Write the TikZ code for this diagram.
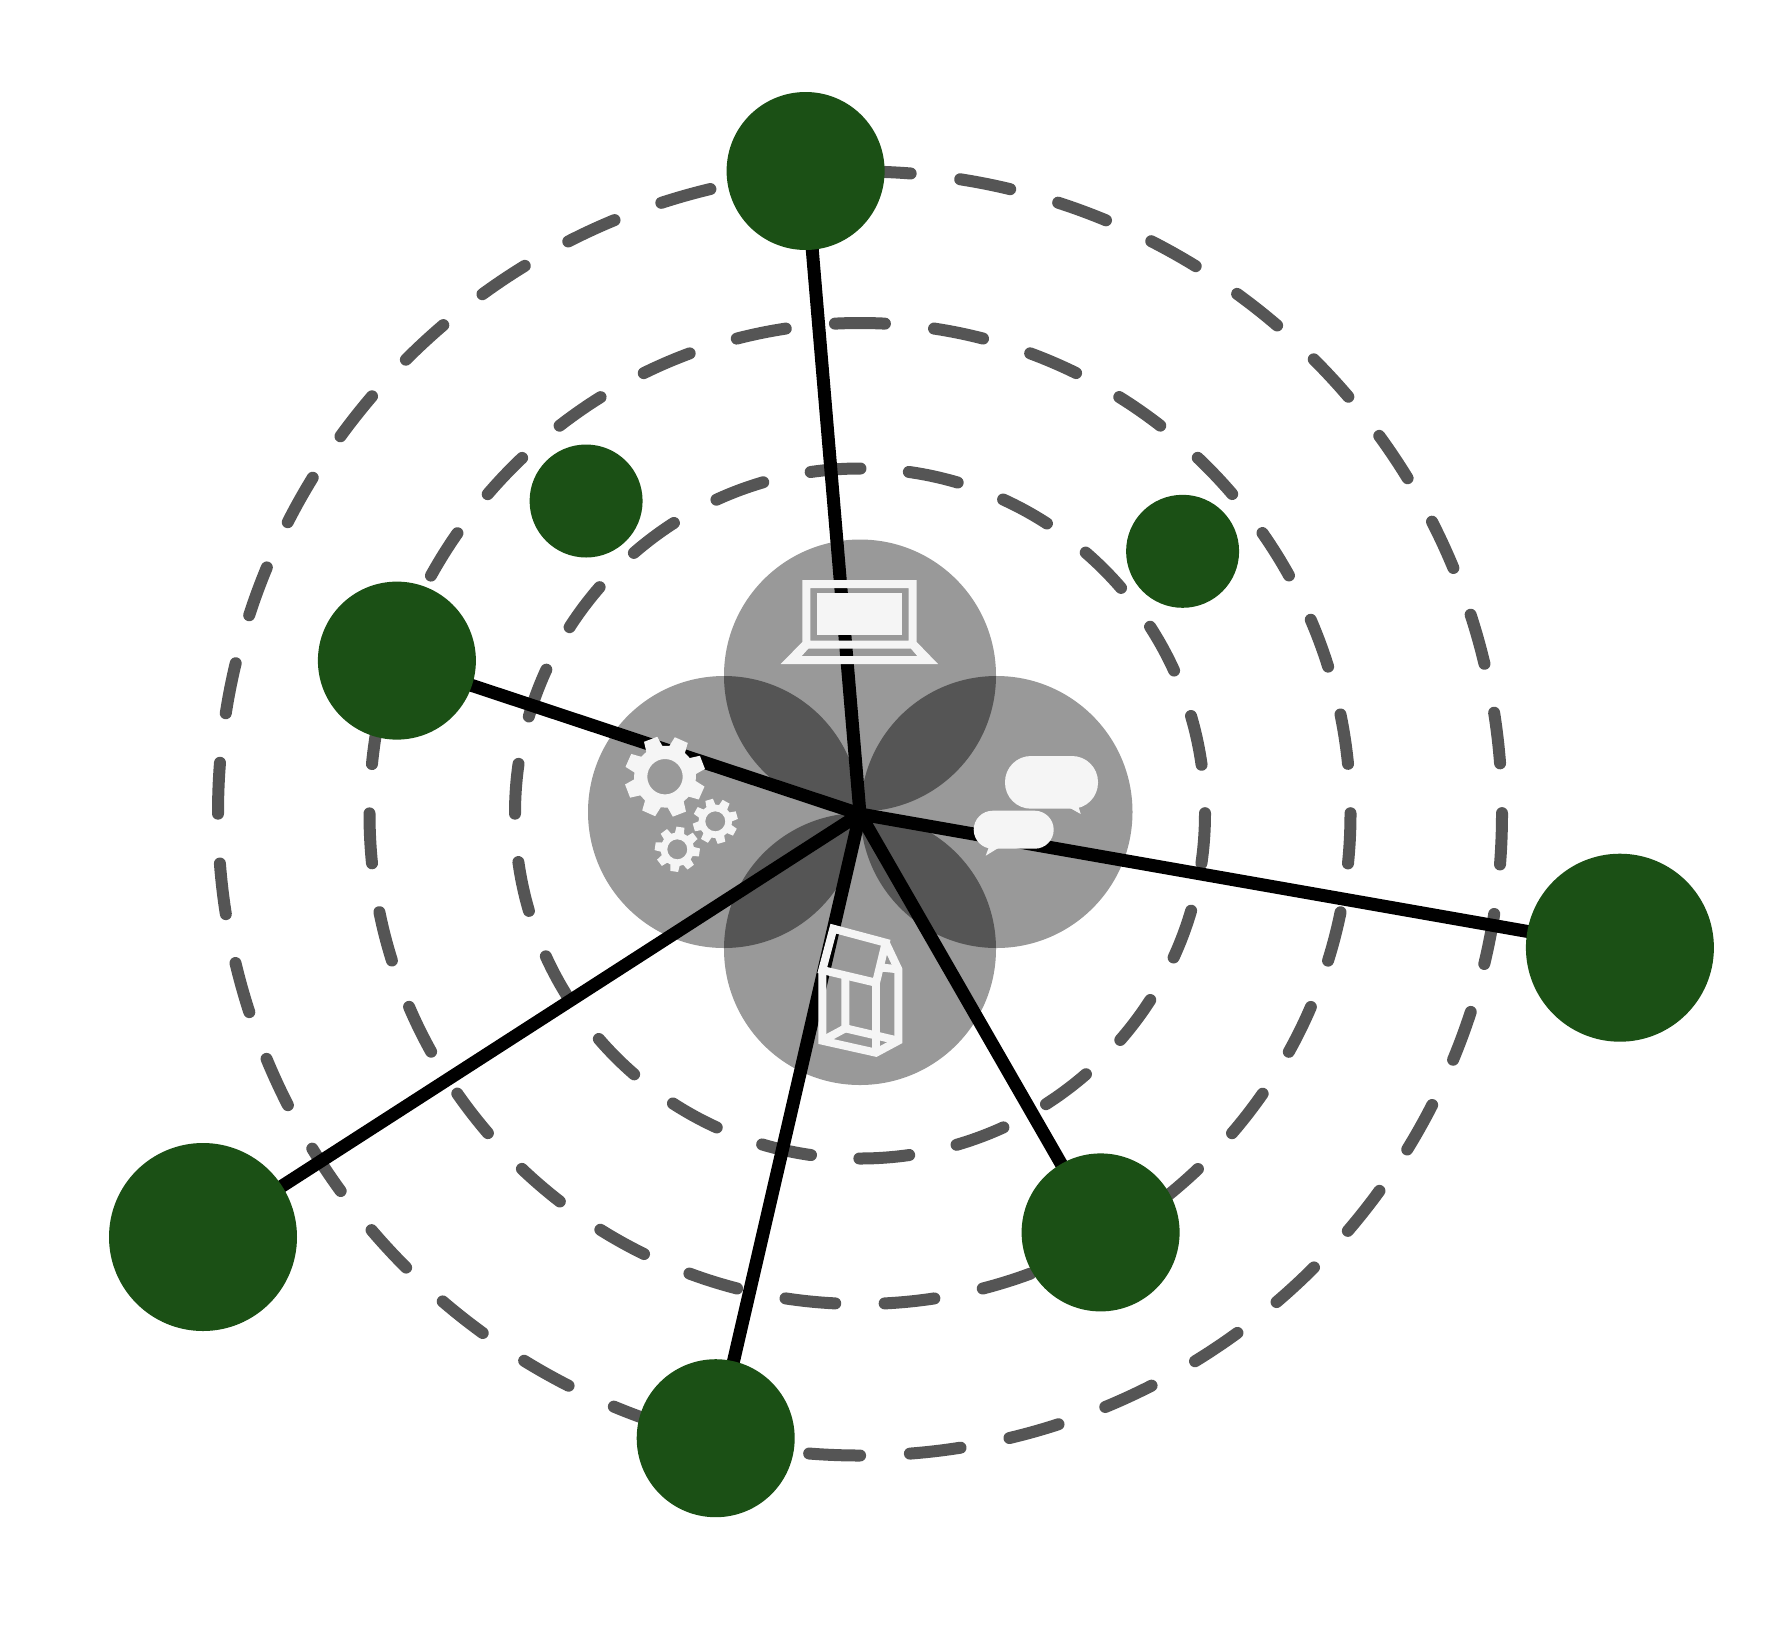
\documentclass[tikz,border=0pt]{standalone}
\pgfdeclarelayer{back}
\pgfsetlayers{back,main}
\definecolor{leaf}{HTML}{1B5015}
\definecolor{ringc}{HTML}{555555}
\definecolor{iconc}{HTML}{F5F5F5}
\definecolor{petalc}{HTML}{999999}
\definecolor{lensc}{HTML}{555555}
\tikzset{
  ring/.style={draw=ringc,line width=12pt,line cap=round},
  petal/.style={circle,fill=petalc,inner sep=0pt,minimum size=272pt},
  spoke/.style={draw=black,line width=13pt},
  bignode/.style={circle,fill=leaf,inner sep=0pt,minimum size=188pt},
  midnode/.style={circle,fill=leaf,inner sep=0pt,minimum size=158pt},
  smallnode/.style={circle,fill=leaf,inner sep=0pt,minimum size=113pt},
  iconfill/.style={fill=iconc,even odd rule},
  iconline/.style={draw=iconc,line width=8pt,line join=miter},
}
\newcommand{\gearicon}[6]{%
  \begin{scope}[shift={(#1,#2)}]
  \fill[iconfill] ({#6-16}:#4)
    \foreach \k in {0,...,7}{
      -- ({#6+45*\k-16}:#4) -- ({#6+45*\k-10}:#3) -- ({#6+45*\k+10}:#3) -- ({#6+45*\k+16}:#4)
    } -- cycle
    (0,0) circle (#5);
  \end{scope}}
\newcommand{\lensfill}[2]{%
  \begin{scope}
  \clip (#1) circle (136);
  \fill[lensc] (#2) circle (136);
  \end{scope}}
\begin{document}
\begin{tikzpicture}[x=1pt,y=1pt]
\useasboundingbox (0,0) rectangle (1786,-1642);
\coordinate (hub) at (860,-814);
% outer nodes
\node[midnode] (top) at (805.6,-171) {};
\node[midnode] (left) at (396.9,-660.6) {};
\node[bignode] (right) at (1619.9,-947.7) {};
\node[bignode] (lowleft) at (203,-1237) {};
\node[midnode] (bottom) at (715.7,-1438.2) {};
\node[midnode] (lowright) at (1100.6,-1232.4) {};
\node[smallnode] (sa) at (586.1,-501) {};
\node[smallnode] (sb) at (1182.6,-551.3) {};
\begin{pgfonlayer}{back}
  \fill[white] (0,0) rectangle (1786,-1642);
  \draw[ring,dash pattern=on 50pt off 48.53pt] (860+345,-813.5) arc (0:-360:345);
  \draw[ring,dash pattern=on 50pt off 49.42pt] (860+490.5,-813.5) arc (0:-360:490.5);
  \draw[ring,dash pattern=on 51pt off 49.85pt] (860+642,-813.5) arc (0:-360:642);
  \node[petal] (pa) at (860,-675.5) {};
  \node[petal] (pb) at (724,-812) {};
  \node[petal] (pc) at (996.5,-812) {};
  \node[petal] (pd) at (860,-949) {};
  \lensfill{pa.center}{pb.center}
  \lensfill{pa.center}{pc.center}
  \lensfill{pd.center}{pb.center}
  \lensfill{pd.center}{pc.center}
  \draw[spoke] (hub) -- (top.center);
  \draw[spoke] (hub) -- (left.center);
  \draw[spoke] (hub) -- (right.center);
  \draw[spoke] (hub) -- (lowleft.center);
  \draw[spoke] (hub) -- (bottom.center);
  \draw[spoke] (hub) -- (lowright.center);
\end{pgfonlayer}
% laptop
\fill[iconfill] (802.3,-580) rectangle (916.7,-642.7) (810.3,-588) rectangle (908.7,-640.7);
\fill[iconc] (817.3,-593.3) rectangle (901.7,-635);
\fill[iconfill] (802.3,-642) -- (780.7,-664) -- (938,-664) -- (916.7,-642) -- cycle
  (808.3,-648.7) -- (911,-648.7) -- (917.3,-656) -- (801.7,-656) -- cycle;
% speech bubbles
\fill[iconc,rounded corners=26pt] (1005,-756) rectangle (1098,-808.7);
\fill[iconc] (1070,-808) -- (1080.7,-814) -- (1078.3,-806) -- cycle;
\fill[iconc,rounded corners=19pt] (973.7,-810.7) rectangle (1053.7,-848.7);
\fill[iconc] (998.3,-848) -- (985.7,-855.7) -- (989.3,-846) -- cycle;
% house
\draw[iconline] (833.3,-928.7) -- (885.7,-942.7) -- (876,-982.7) -- (822.3,-970) -- cycle;
\draw[iconline] (822.3,-970) -- (822.3,-1040.7) -- (876,-1052.7) -- (898.3,-1040.7) -- (898.3,-969.3) -- (885.7,-942.7);
\draw[iconline] (876,-982.7) -- (876,-1052.7);
\draw[iconline] (845.3,-976.7) -- (845.3,-1028.3) -- (898.3,-1040.7);
\draw[iconline] (822.3,-1040.7) -- (845.3,-1028.3);
\draw[iconline] (879.3,-967.3) -- (898.3,-969.3);
% gears
\gearicon{665}{-776.7}{40.7}{31}{17.7}{66}
\gearicon{715.3}{-821.3}{22.7}{16.7}{10}{61}
\gearicon{677.3}{-849.3}{22.7}{16.7}{10}{82}
\end{tikzpicture}
\end{document}
